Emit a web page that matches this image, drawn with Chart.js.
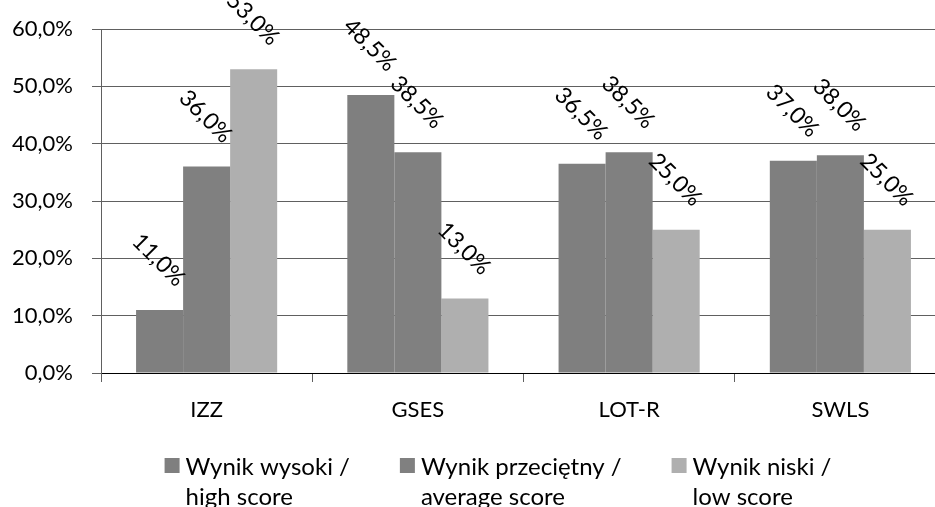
<!DOCTYPE html>
<html>
<head>
<meta charset="utf-8">
<script src="https://cdn.jsdelivr.net/npm/chart.js@4.4.1/dist/chart.umd.min.js"></script>
<style>
  html, body { margin: 0; padding: 0; overflow: hidden; background: #fff; }
  #wrap { width: 946px; height: 507px; }
</style>
</head>
<body>
<div id="wrap"><canvas id="scores-chart" width="946" height="507"></canvas></div>
<script>
var categories = ['IZZ', 'GSES', 'LOT-R', 'SWLS']
var seriesNames = ['Wynik wysoki /\nhigh score', 'Wynik przeciętny /\naverage score', 'Wynik niski /\nlow score']
var highScore = [11.0, 48.5, 36.5, 37.0]
var averageScore = [36.0, 38.5, 38.5, 38.0]
var lowScore = [53.0, 13.0, 25.0, 25.0]
var yTicks = [0, 10, 20, 30, 40, 50, 60]

var FONT = 'Lato, "Open Sans", sans-serif'
var fmt = v => v.toFixed(1).replace('.', ',') + '%'

// rotated value labels over each bar
var barLabels = {
    id: 'barLabels',
    afterDatasetsDraw(chart) {
        var ctx = chart.ctx
        ctx.save()
        ctx.font = '23px ' + FONT
        ctx.fillStyle = '#000'
        ctx.textAlign = 'center'
        ctx.textBaseline = 'middle'
        chart.data.datasets.forEach((ds, i) => {
            chart.getDatasetMeta(i).data.forEach((bar, j) => {
                ctx.save()
                ctx.translate(bar.x - 1, bar.y - 50)
                ctx.rotate(Math.PI / 4)
                ctx.fillText(fmt(ds.data[j]), 0, 0)
                ctx.restore()
            })
        })
        ctx.restore()
    }
}

// legend with two-line labels, under the axis
var twoLineLegend = {
    id: 'twoLineLegend',
    afterDraw(chart) {
        var ctx = chart.ctx
        ctx.save()
        ctx.font = '24px ' + FONT
        var box = 15, gap = 6, spacing = 50
        var items = chart.data.datasets.map(ds => {
            var lines = ds.label.split('\n')
            var w = Math.max(...lines.map(l => ctx.measureText(l).width))
            return { lines: lines, color: ds.backgroundColor, w: box + gap + w }
        })
        var total = items.reduce((s, it) => s + it.w, 0) + spacing * (items.length - 1)
        var x = 498 - total / 2
        items.forEach(it => {
            ctx.fillStyle = it.color
            ctx.fillRect(x, 458, box, box)
            ctx.fillStyle = '#000'
            ctx.textBaseline = 'alphabetic'
            it.lines.forEach((l, k) => ctx.fillText(l, x + box + gap, 475 + k * 30))
            x += it.w + spacing
        })
        ctx.restore()
    }
}

var ctx = document.getElementById('scores-chart').getContext('2d')

new Chart(ctx, {
    type: 'bar',
    data: {
        labels: categories,
        datasets: [
            { label: seriesNames[0], data: highScore, backgroundColor: '#7f7f7f' },
            { label: seriesNames[1], data: averageScore, backgroundColor: '#808080' },
            { label: seriesNames[2], data: lowScore, backgroundColor: '#afafaf' }
        ]
    },
    options: {
        responsive: false,
        animation: false,
        layout: { padding: { top: 29, left: 0, right: 0, bottom: 84 } },
        datasets: { bar: { categoryPercentage: 0.668, barPercentage: 1.0 } },
        plugins: {
            legend: { display: false },
            tooltip: { enabled: false }
        },
        scales: {
            x: {
                grid: { drawOnChartArea: false, drawTicks: true, tickLength: 9, color: '#606060', offset: true },
                border: { color: '#000', width: 1 },
                ticks: { color: '#000', font: { family: FONT, size: 22 }, padding: 15 },
                afterFit: s => { s.height = 50; s.paddingLeft = 0; s.paddingRight = 0 }
            },
            y: {
                min: 0,
                max: 60,
                afterBuildTicks: s => { s.ticks = yTicks.map(v => ({ value: v })) },
                grid: { color: '#606060', tickLength: 9 },
                border: { color: '#606060', width: 1 },
                ticks: { color: '#000', font: { family: FONT, size: 22 }, padding: 19, callback: v => fmt(v) },
                afterFit: s => { s.width = 101; s.paddingTop = 0; s.paddingBottom = 0 }
            }
        }
    },
    plugins: [barLabels, twoLineLegend]
})
</script>
</body>
</html>
